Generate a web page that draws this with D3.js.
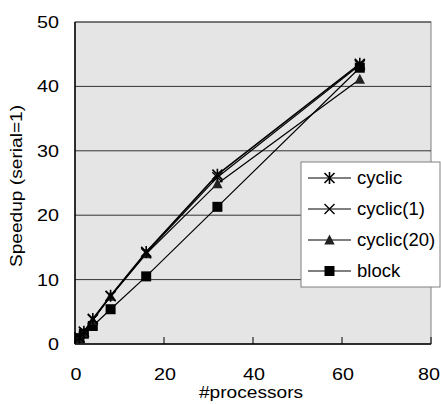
<!DOCTYPE html>
<html lang="en">
<head>
    <meta charset="UTF-8">
    <title>Speedup chart</title>
    <script src="https://d3js.org/d3.v7.min.js"></script>
    <style>
        body {
            margin: 0;
            background: #fff;
            font-family: "Liberation Sans", Arial, sans-serif;
        }
        .tick-label { font-size: 17px; fill: #000; }
        .axis-title { font-size: 16.5px; fill: #000; }
        .legend-text { font-size: 18.5px; fill: #000; }
    </style>
</head>
<body>
    <svg id="chart" width="441" height="404"></svg>
    <script>
        // processor counts on the x axis
        const procs = [1, 2, 4, 8, 16, 32, 64];

        // speedup values per distribution
        const cyclic   = [1.0, 1.9, 3.9, 7.5, 14.3, 26.3, 43.5];
        const cyclic1  = [1.0, 1.9, 3.8, 7.4, 14.1, 25.9, 43.3];
        const cyclic20 = [0.9, 1.8, 3.7, 7.4, 14.0, 24.9, 41.1];
        const block    = [0.9, 1.6, 2.8, 5.4, 10.5, 21.3, 42.9];

        const seriesNames = ["cyclic", "cyclic(1)", "cyclic(20)", "block"];
        const seriesMarkers = ["star", "cross", "triangle", "square"];
        const seriesValues = [cyclic, cyclic1, cyclic20, block];

        const xTicks = [0, 20, 40, 60, 80];
        const yTicks = [0, 10, 20, 30, 40, 50];

        const svg = d3.select("#chart");
        const plotL = 75, plotR = 431, plotT = 22, plotB = 344;
        const stretch = 1.16; // the original text looks a bit wide

        const x = d3.scaleLinear().domain([0, 80]).range([plotL, plotR]);
        const y = d3.scaleLinear().domain([0, 50]).range([plotB, plotT]);

        function wideText(cls, tx, ty, anchor, str, rot) {
            svg.append("text")
                .attr("class", cls)
                .attr("transform", `translate(${tx},${ty})` + (rot ? ` rotate(${rot})` : "") + ` scale(${stretch},1)`)
                .attr("text-anchor", anchor)
                .text(str);
        }

        // plot background
        svg.append("rect")
            .attr("x", plotL).attr("y", plotT)
            .attr("width", plotR - plotL).attr("height", plotB - plotT)
            .attr("fill", "#e5e5e5")
            .attr("stroke", "#808080")
            .attr("stroke-width", 1);

        // horizontal grid lines
        yTicks.slice(1).forEach(t => {
            svg.append("line")
                .attr("x1", plotL).attr("x2", plotR)
                .attr("y1", y(t)).attr("y2", y(t))
                .attr("stroke", "#333").attr("stroke-width", 1);
        });

        // axes lines
        svg.append("line")
            .attr("x1", plotL).attr("x2", plotL).attr("y1", plotT).attr("y2", plotB)
            .attr("stroke", "#000").attr("stroke-width", 1.5);
        svg.append("line")
            .attr("x1", plotL).attr("x2", plotR).attr("y1", plotB).attr("y2", plotB)
            .attr("stroke", "#000").attr("stroke-width", 1.5);

        // x ticks (inside, pointing up)
        xTicks.forEach(t => {
            svg.append("line")
                .attr("x1", x(t)).attr("x2", x(t))
                .attr("y1", plotB).attr("y2", plotB - 7)
                .attr("stroke", "#000").attr("stroke-width", 1);
            // last label sits against the right edge
            wideText("tick-label", Math.min(x(t) + 1, 429), plotB + 36, "middle", t);
        });

        yTicks.forEach(t => {
            wideText("tick-label", plotL - 16, y(t) + 6, "end", t);
        });

        wideText("axis-title", 251, 398, "middle", "#processors");
        wideText("axis-title", 22, 186, "middle", "Speedup (serial=1)", -90);

        function drawMarker(g, type, cx, cy) {
            if (type === "star") {
                const r = 5;
                g.append("path")
                    .attr("d", `M${cx - r},${cy - r}L${cx + r},${cy + r}M${cx - r},${cy + r}L${cx + r},${cy - r}M${cx},${cy - r - 1}L${cx},${cy + r + 1}`)
                    .attr("stroke", "#000").attr("stroke-width", 1.6);
            } else if (type === "cross") {
                const r = 5;
                g.append("path")
                    .attr("d", `M${cx - r},${cy - r}L${cx + r},${cy + r}M${cx - r},${cy + r}L${cx + r},${cy - r}`)
                    .attr("stroke", "#000").attr("stroke-width", 1.4);
            } else if (type === "triangle") {
                g.append("path")
                    .attr("d", `M${cx},${cy - 5.5}L${cx + 5.2},${cy + 4.5}L${cx - 5.2},${cy + 4.5}Z`)
                    .attr("fill", "#222");
            } else {
                g.append("rect")
                    .attr("x", cx - 5).attr("y", cy - 5)
                    .attr("width", 10).attr("height", 10)
                    .attr("fill", "#000");
            }
        }

        const line = d3.line().x(d => x(d[0])).y(d => y(d[1]));

        // draw series, block first so cyclic lines sit on top
        [3, 2, 1, 0].forEach(i => {
            const pts = procs.map((p, k) => [p, seriesValues[i][k]]);
            const g = svg.append("g");
            g.append("path")
                .attr("d", line(pts))
                .attr("fill", "none")
                .attr("stroke", "#000")
                .attr("stroke-width", i === 0 ? 1.6 : 1.2);
            pts.forEach(d => drawMarker(g, seriesMarkers[i], x(d[0]), y(d[1])));
        });

        // legend
        const lg = svg.append("g");
        lg.append("rect")
            .attr("x", 301).attr("y", 162)
            .attr("width", 139).attr("height", 125)
            .attr("fill", "#fff")
            .attr("stroke", "#808080")
            .attr("stroke-width", 1);
        seriesNames.forEach((name, i) => {
            const ly = 178 + i * 31;
            lg.append("line")
                .attr("x1", 308).attr("x2", 351)
                .attr("y1", ly).attr("y2", ly)
                .attr("stroke", "#000").attr("stroke-width", 1.2);
            drawMarker(lg, seriesMarkers[i], 329.5, ly);
            lg.append("text")
                .attr("class", "legend-text")
                .attr("x", 357).attr("y", ly + 6)
                .text(name);
        });
    </script>
</body>
</html>
